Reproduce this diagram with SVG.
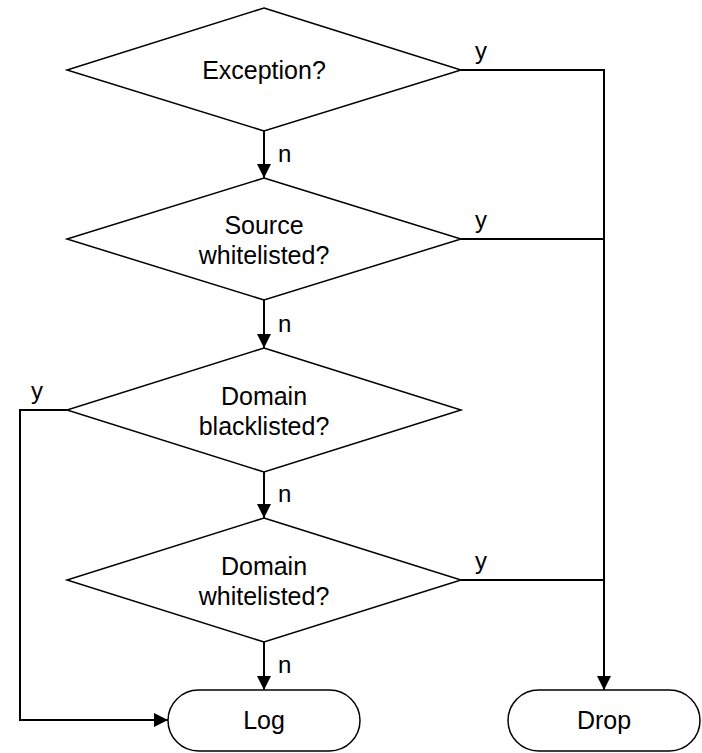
<svg xmlns="http://www.w3.org/2000/svg" width="702" height="753" viewBox="0 0 702 753">
<style>
.shape{fill:#fff;stroke:#000;stroke-width:1.5}
.t{font-family:"Liberation Sans",Arial,sans-serif;font-size:25px;fill:#000;text-anchor:middle}
.lbl{font-family:"Liberation Sans",Arial,sans-serif;font-size:24px;fill:#000}
.c{fill:none;stroke:#000;stroke-width:2}
</style>
<defs>
<marker id="arr" markerUnits="userSpaceOnUse" markerWidth="14" markerHeight="14" viewBox="0 0 14 14" refX="14" refY="7" orient="auto">
<path d="M0,0 L14,7 L0,14 Z" fill="#000"/>
</marker>
</defs>
<rect width="702" height="753" fill="#fff"/>
<g id="connectors">
<path class="c" d="M264,131 V178" marker-end="url(#arr)"/>
<path class="c" d="M264,300 V348" marker-end="url(#arr)"/>
<path class="c" d="M264,472 V518" marker-end="url(#arr)"/>
<path class="c" d="M264,642 V690" marker-end="url(#arr)"/>
<path class="c" d="M461,70 H604 V690" marker-end="url(#arr)"/>
<path class="c" d="M461,239 H604"/>
<path class="c" d="M461,580 H604"/>
<path class="c" d="M67,410 H20 V720 H168" marker-end="url(#arr)"/>
<text class="lbl" x="475" y="59">y</text>
<text class="lbl" x="475" y="228">y</text>
<text class="lbl" x="475" y="569">y</text>
<text class="lbl" x="31" y="399">y</text>
<text class="lbl" x="278" y="162">n</text>
<text class="lbl" x="278" y="332">n</text>
<text class="lbl" x="278" y="502">n</text>
<text class="lbl" x="278" y="673">n</text>
</g>
<g id="exception">
<polygon class="shape" points="264,8 461,70 264,131 67,70"/>
<text class="t" x="264" y="79">Exception?</text>
</g>
<g id="source-whitelisted">
<polygon class="shape" points="264,178 461,239 264,300 67,239"/>
<text class="t" x="264" y="234">Source</text>
<text class="t" x="264" y="264">whitelisted?</text>
</g>
<g id="domain-blacklisted">
<polygon class="shape" points="264,348 461,410 264,472 67,410"/>
<text class="t" x="264" y="405">Domain</text>
<text class="t" x="264" y="435">blacklisted?</text>
</g>
<g id="domain-whitelisted">
<polygon class="shape" points="264,518 461,580 264,642 67,580"/>
<text class="t" x="264" y="575">Domain</text>
<text class="t" x="264" y="605">whitelisted?</text>
</g>
<g id="log">
<rect class="shape" x="168" y="690" width="192" height="61" rx="30.5"/>
<text class="t" x="264" y="729">Log</text>
</g>
<g id="drop">
<rect class="shape" x="508" y="690" width="192" height="61" rx="30.5"/>
<text class="t" x="604" y="729">Drop</text>
</g>
</svg>
